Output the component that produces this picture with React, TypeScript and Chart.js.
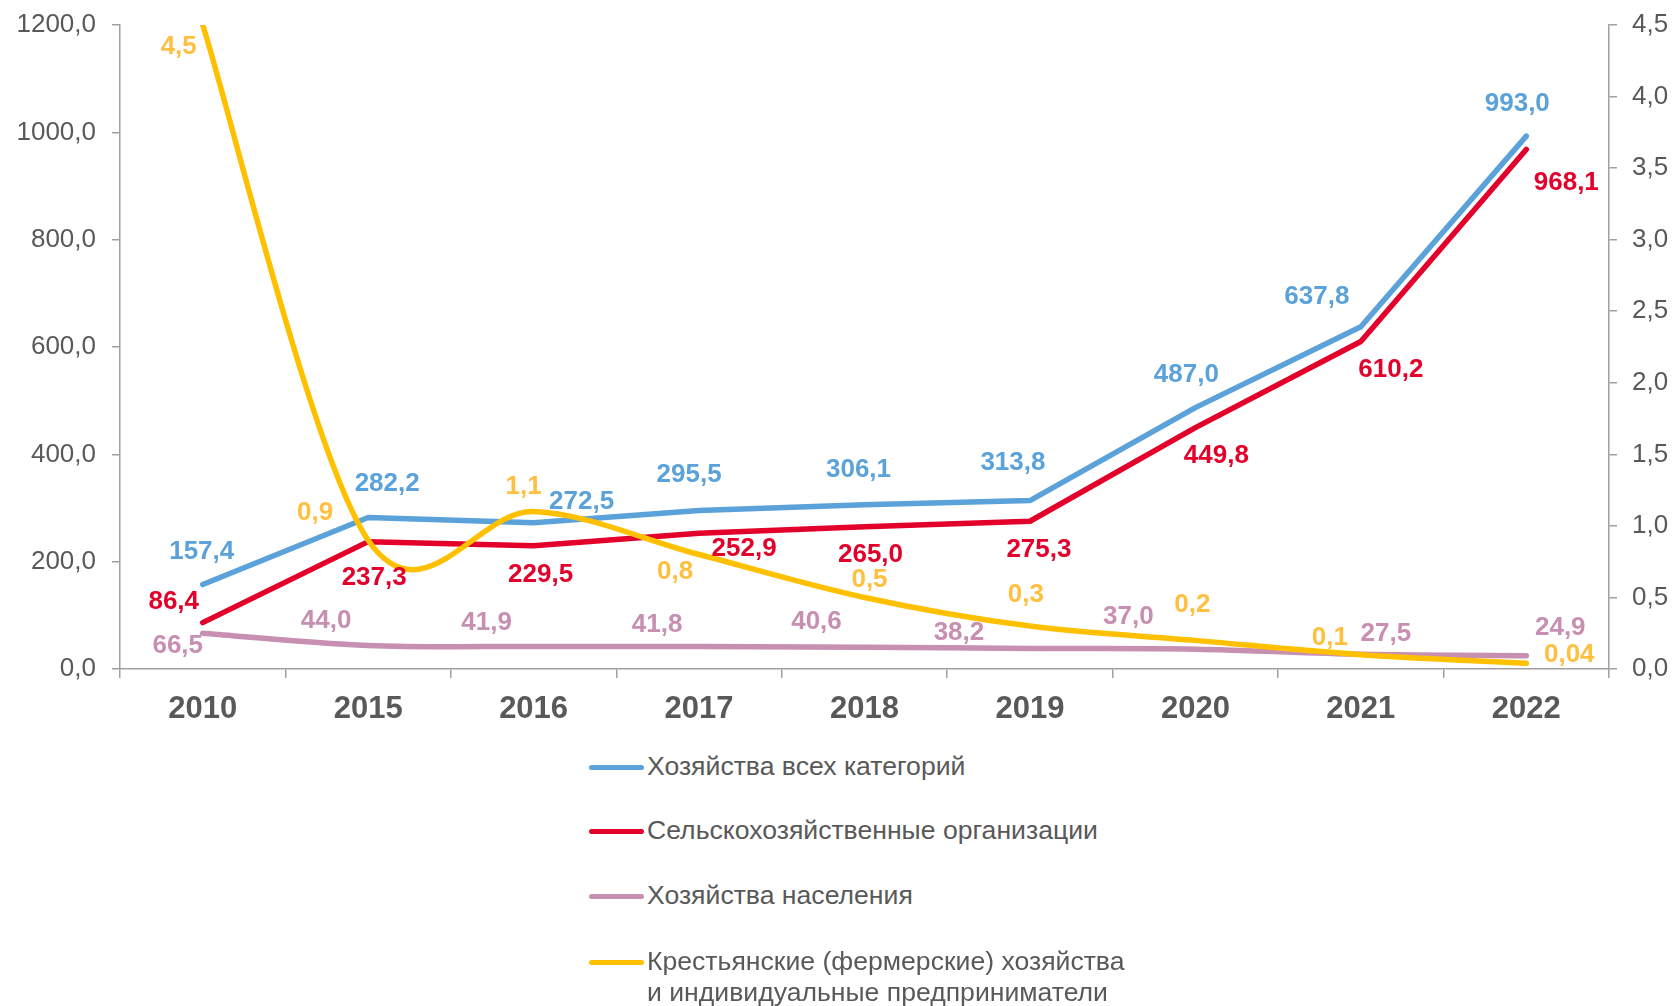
import React, { useEffect, useRef } from "react";
import { Chart, registerables } from "chart.js";

Chart.register(...registerables);

const categories = ["2010", "2015", "2016", "2017", "2018", "2019", "2020", "2021", "2022"];

const allFarms = [157.4, 282.2, 272.5, 295.5, 306.1, 313.8, 487.0, 637.8, 993.0];
const agriOrgs = [86.4, 237.3, 229.5, 252.9, 265.0, 275.3, 449.8, 610.2, 968.1];
const households = [66.5, 44.0, 41.9, 41.8, 40.6, 38.2, 37.0, 27.5, 24.9];
const peasantFarms = [4.5, 0.9, 1.1, 0.8, 0.5, 0.3, 0.2, 0.1, 0.04];

const leftTicks = [0, 200, 400, 600, 800, 1000, 1200];
const rightTicks = [0, 0.5, 1.0, 1.5, 2.0, 2.5, 3.0, 3.5, 4.0, 4.5];

const seriesNames = [
  "Хозяйства всех категорий",
  "Сельскохозяйственные организации",
  "Хозяйства населения",
  "Крестьянские (фермерские) хозяйства\nи индивидуальные предприниматели",
];

// label offsets (px) relative to each point
const offAll = [[-1, -33], [19, -34], [48, -21], [-10, -36], [-6, -35], [-17, -38], [-9, -33], [-44, -30], [-9, -32]];
const offAgri = [[-29, -21], [6, 36], [7, 29], [45, 16], [6, 28], [9, 29], [21, 28], [30, 28], [40, 33]];
const offHouse = [[-25, 13], [-42, -25], [-47, -24], [-42, -22], [-48, -25], [-71, -16], [-67, -32], [25, -20], [34, -28]];
const offPeasant = [[-24, 22], [-53, -27], [-10, -25], [-24, 17], [5, -18], [-4, -31], [-3, -36], [-31, -17], [43, -8]];

const lineColors = ["#5AA2D9", "#E3002B", "#C78FB1", "#FFC000"];
const labelColors = ["#5AA2D9", "#E3002B", "#C78FB1", "#FFBF3F"];
const smoothed = [false, false, true, true];

const FONT = "'Liberation Sans', Arial, sans-serif";
const TEXT = "#595959";
const AXIS = "#A0A0A0";

const fmt1 = (v: number) => v.toFixed(1).replace(".", ",");
const fmtRaw = (v: number) => String(v).replace(".", ",");

export default function App() {
  const ref = useRef<HTMLCanvasElement | null>(null);

  useEffect(() => {
    if (!ref.current) return;
    const offsets = [offAll, offAgri, offHouse, offPeasant];
    const formats = [fmt1, fmt1, fmt1, fmtRaw];

    // Excel-like (Catmull-Rom) smoothing of the control points
    const smoothPlugin = {
      id: "excelSmooth",
      beforeDatasetsDraw(chart: any) {
        chart.data.datasets.forEach((_ds: any, di: number) => {
          if (!smoothed[di]) return;
          const meta = chart.getDatasetMeta(di);
          const line = meta.dataset;
          if (line && line.updateControlPoints) line.updateControlPoints(chart.chartArea, "x");
          const pts = meta.data;
          pts.forEach((pt: any, i: number) => {
            const prev = pts[i - 1] || pt;
            const next = pts[i + 1] || pt;
            const tx = (next.x - prev.x) / 6;
            const ty = (next.y - prev.y) / 6;
            pt.cp1x = pt.x - tx;
            pt.cp1y = pt.y - ty;
            pt.cp2x = pt.x + tx;
            pt.cp2y = pt.y + ty;
          });
          if (line) {
            line._pointsUpdated = true;
            delete line._path;
          }
        });
      },
    };

    const labelPlugin = {
      id: "pointLabels",
      afterDatasetsDraw(chart: any) {
        const ctx = chart.ctx;
        ctx.save();
        ctx.font = `bold 26px ${FONT}`;
        ctx.textAlign = "center";
        ctx.textBaseline = "middle";
        chart.data.datasets.forEach((ds: any, di: number) => {
          const meta = chart.getDatasetMeta(di);
          ctx.fillStyle = labelColors[di];
          meta.data.forEach((pt: any, i: number) => {
            const o = offsets[di][i];
            ctx.fillText(formats[di](ds.data[i]), pt.x + o[0], pt.y + o[1]);
          });
        });
        ctx.restore();
      },
    };

    const chart = new Chart(ref.current, {
      type: "line",
      data: {
        labels: categories,
        datasets: [
          { label: seriesNames[0], data: allFarms, yAxisID: "y", borderColor: lineColors[0], tension: 0, order: 3 },
          { label: seriesNames[1], data: agriOrgs, yAxisID: "y", borderColor: lineColors[1], tension: 0, order: 2 },
          { label: seriesNames[2], data: households, yAxisID: "y", borderColor: lineColors[2], tension: 0.4, order: 1 },
          { label: seriesNames[3], data: peasantFarms, yAxisID: "y2", borderColor: lineColors[3], tension: 0.4, order: 0 },
        ].map((d) => ({
          ...d,
          borderWidth: 5.5,
          pointRadius: 0,
          pointHoverRadius: 0,
          fill: false,
          borderCapStyle: "round" as const,
          borderJoinStyle: "round" as const,
        })),
      },
      options: {
        animation: false,
        responsive: false,
        maintainAspectRatio: false,
        layout: { padding: { top: 25, left: 0, right: 0, bottom: 0 } },
        plugins: { legend: { display: false }, tooltip: { enabled: false } },
        scales: {
          x: {
            type: "category",
            offset: true,
            grid: { offset: true, drawOnChartArea: false, drawTicks: true, tickLength: 9, color: AXIS, lineWidth: 1.5 },
            border: { display: true, color: AXIS, width: 1.5 },
            ticks: { color: TEXT, font: { family: FONT, size: 31, weight: "bold" }, padding: 13, maxRotation: 0, autoSkip: false },
            afterFit: (s: any) => { s.height = 81; s.paddingLeft = 0; s.paddingRight = 0; },
          },
          y: {
            type: "linear",
            position: "left",
            min: leftTicks[0],
            max: leftTicks[leftTicks.length - 1],
            afterBuildTicks: (s: any) => { s.ticks = leftTicks.map((v) => ({ value: v })); },
            grid: { drawOnChartArea: false, drawTicks: true, tickLength: 8, color: AXIS, lineWidth: 1.5 },
            border: { display: true, color: AXIS, width: 1.5 },
            ticks: { color: TEXT, font: { family: FONT, size: 26 }, padding: 16, callback: (v: any) => fmt1(Number(v)) },
            afterFit: (s: any) => { s.width = 120; s.paddingTop = 0; s.paddingBottom = 0; },
          },
          y2: {
            type: "linear",
            position: "right",
            min: rightTicks[0],
            max: rightTicks[rightTicks.length - 1],
            afterBuildTicks: (s: any) => { s.ticks = rightTicks.map((v) => ({ value: v })); },
            grid: { drawOnChartArea: false, drawTicks: true, tickLength: 8, color: AXIS, lineWidth: 1.5 },
            border: { display: true, color: AXIS, width: 1.5 },
            ticks: { color: TEXT, font: { family: FONT, size: 26 }, padding: 15, callback: (v: any) => fmt1(Number(v)) },
            afterFit: (s: any) => { s.width = 66; s.paddingTop = 0; s.paddingBottom = 0; },
          },
        },
      },
      plugins: [smoothPlugin, labelPlugin],
    });
    return () => chart.destroy();
  }, []);

  const legendRows = [767, 831, 896, 962];

  return (
    <div style={{ position: "fixed", left: 0, top: 0, width: 1675, height: 1006, background: "#fff", fontFamily: FONT }}>
      <canvas ref={ref} width={1675} height={750} style={{ position: "absolute", left: 0, top: 0, width: 1675, height: 750 }} />
      {seriesNames.map((name, i) => (
        <div key={i}>
          <div
            style={{
              position: "absolute",
              left: 589,
              top: legendRows[i] - 2.5,
              width: 55,
              height: 5,
              borderRadius: 3,
              background: lineColors[i],
            }}
          />
          <div
            style={{
              position: "absolute",
              left: 647,
              top: legendRows[i] - 16,
              fontSize: 26.6,
              lineHeight: "31px",
              color: TEXT,
              whiteSpace: "pre",
            }}
          >
            {name}
          </div>
        </div>
      ))}
    </div>
  );
}
